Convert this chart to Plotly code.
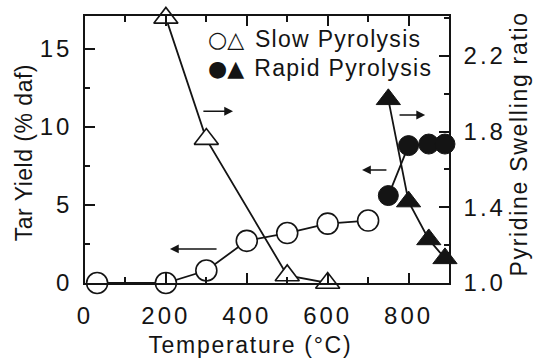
import plotly.graph_objects as go

# Tar yield (% daf) versus temperature
temp_slow_tar = [30, 200, 300, 400, 500, 600, 700]
tar_slow = [0.0, 0.0, 0.8, 2.7, 3.2, 3.8, 4.0]
temp_rapid_tar = [750, 800, 850, 890]
tar_rapid = [5.6, 8.8, 8.9, 8.9]

# Pyridine swelling ratio versus temperature
temp_slow_swell = [200, 300, 500, 600]
swell_slow = [2.40, 1.76, 1.04, 1.0]
temp_rapid_swell = [750, 800, 850, 890]
swell_rapid = [1.97, 1.43, 1.23, 1.13]

# Axis ticks
temp_ticks = [0, 200, 400, 600, 800]
tar_ticks = [0, 5, 10, 15]
swell_ticks = [1.0, 1.4, 1.8, 2.2]
swell_tick_labels = ["1.0", "1.4", "1.8", "2.2"]

INK = "#141414"
FONT = "Liberation Sans, Arial, sans-serif"
SYM_FONT = "DejaVu Sans, sans-serif"

fig = go.Figure()

line_style = dict(color=INK, width=1.8)

fig.add_trace(go.Scatter(
    x=temp_slow_swell, y=swell_slow, yaxis="y2", mode="lines+markers",
    line=line_style,
    marker=dict(symbol="triangle-up", size=21, color="white",
                line=dict(color=INK, width=1.6)),
    cliponaxis=False, showlegend=False))
fig.add_trace(go.Scatter(
    x=temp_rapid_swell, y=swell_rapid, yaxis="y2", mode="lines+markers",
    line=line_style,
    marker=dict(symbol="triangle-up", size=21, color=INK,
                line=dict(color=INK, width=1)),
    cliponaxis=False, showlegend=False))
fig.add_trace(go.Scatter(
    x=temp_slow_tar, y=tar_slow, mode="lines+markers",
    line=line_style,
    marker=dict(symbol="circle", size=21, color="white",
                line=dict(color=INK, width=1.6)),
    cliponaxis=False, showlegend=False))
fig.add_trace(go.Scatter(
    x=temp_rapid_tar, y=tar_rapid, mode="lines+markers",
    line=line_style,
    marker=dict(symbol="circle", size=20, color=INK,
                line=dict(color=INK, width=1)),
    cliponaxis=False, showlegend=False))

axis_common = dict(
    showline=True, linecolor=INK, linewidth=1.6,
    ticks="inside", ticklen=10, tickwidth=1.6, tickcolor=INK,
    showgrid=False, zeroline=False,
    tickfont=dict(family=FONT, size=24, color=INK),
)

fig.update_layout(
    width=537, height=359,
    margin=dict(l=85, r=88, t=16, b=76),
    paper_bgcolor="white", plot_bgcolor="white",
    xaxis=dict(range=[0, 900], tickvals=temp_ticks, mirror="ticks",
               minor=dict(dtick=100, tick0=0, ticklen=6, tickwidth=1.6,
                          ticks="inside", tickcolor=INK),
               ticklabelstandoff=10, **axis_common),
    yaxis=dict(range=[0, 17.1], tickvals=tar_ticks,
               minor=dict(dtick=2.5, tick0=0, ticklen=5, tickwidth=1.6,
                          ticks="inside", tickcolor=INK),
               ticklabelstandoff=6, **axis_common),
    yaxis2=dict(range=[1.0, 2.41], tickvals=swell_ticks,
                ticktext=swell_tick_labels, overlaying="y", side="right",
                minor=dict(dtick=0.2, tick0=1.0, ticklen=5, tickwidth=1.6,
                           ticks="inside", tickcolor=INK),
                ticklabelstandoff=8, **axis_common),
)

annotations = []

# Axis titles
annotations.append(dict(text="Tar Yield (% daf)", xref="paper", yref="paper",
                        x=-0.168, y=0.49, textangle=-90, showarrow=False,
                        xanchor="center", yanchor="middle",
                        font=dict(family=FONT, size=23, color=INK)))
annotations.append(dict(text="Pyridine Swelling ratio", xref="paper", yref="paper",
                        x=1.192, y=0.52, textangle=-90, showarrow=False,
                        xanchor="center", yanchor="middle",
                        font=dict(family=FONT, size=23, color=INK)))
annotations.append(dict(text="Temperature (°C)", xref="paper", yref="paper",
                        x=0.456, y=-0.232, showarrow=False,
                        xanchor="center", yanchor="middle",
                        font=dict(family=FONT, size=23, color=INK)))

# Legend
annotations.append(dict(text="○△", xref="x", yref="y", x=348, y=15.6,
                        showarrow=False, xanchor="center", yanchor="middle",
                        font=dict(family=SYM_FONT, size=22, color=INK)))
annotations.append(dict(text="●▲", xref="x", yref="y", x=348, y=13.75,
                        showarrow=False, xanchor="center", yanchor="middle",
                        font=dict(family=SYM_FONT, size=22, color=INK)))
annotations.append(dict(text="Slow Pyrolysis", xref="x", yref="y", x=420, y=15.6,
                        showarrow=False, xanchor="left", yanchor="middle",
                        xshift=7,
                        font=dict(family=FONT, size=23, color=INK)))
annotations.append(dict(text="Rapid Pyrolysis", xref="x", yref="y", x=420, y=13.75,
                        showarrow=False, xanchor="left", yanchor="middle",
                        xshift=7,
                        font=dict(family=FONT, size=23, color=INK)))

# Arrows pointing each curve to its own axis
def arrow(x_head, x_tail, y):
    return dict(x=x_head, y=y, ax=x_tail, ay=y, xref="x", yref="y",
                axref="x", ayref="y", text="", showarrow=True,
                arrowhead=2, arrowsize=1.1, arrowwidth=1.6, arrowcolor=INK)

annotations.append(arrow(366, 289, 11.0))
annotations.append(arrow(210, 329, 2.18))
annotations.append(arrow(841, 774, 10.76))
annotations.append(arrow(685, 749, 7.24))

fig.update_layout(annotations=annotations)

# Wider letter spacing for the typeset labels
spacing_js = """
var gd = document.getElementsByClassName('plotly-graph-div')[0];
function spaceText() {
  var sp = {'Temperature (°C)': '1.7px', 'Pyridine Swelling ratio': '1.7px',
            'Tar Yield (% daf)': '0.5px', 'Slow Pyrolysis': '1.3px',
            'Rapid Pyrolysis': '1.3px'};
  gd.querySelectorAll('.annotation-text').forEach(function (t) {
    if (sp[t.textContent]) { t.style.letterSpacing = sp[t.textContent]; }
  });
  gd.querySelectorAll('.xtick text, .ytick text, .y2tick text').forEach(function (t) {
    t.style.letterSpacing = '3px';
  });
}
spaceText();
"""

fig.write_html("out.html", post_script=spacing_js)
